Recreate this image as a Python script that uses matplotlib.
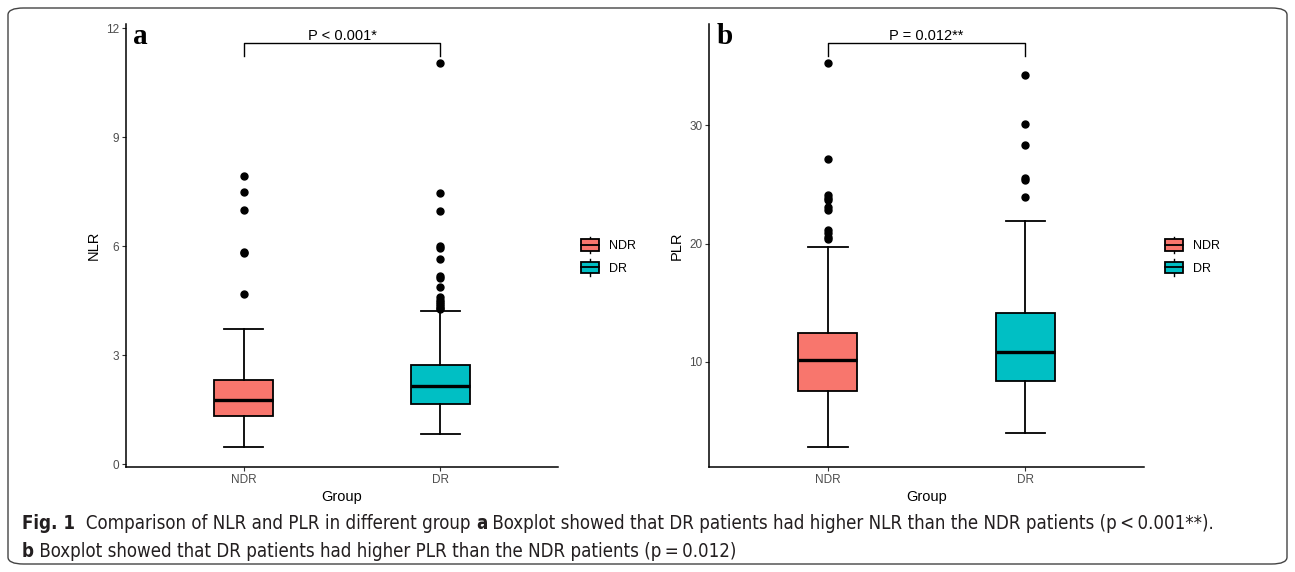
import matplotlib
matplotlib.use("Agg")
import matplotlib.pyplot as plt
from matplotlib import font_manager
from matplotlib.patches import Rectangle, FancyBboxPatch
from matplotlib.lines import Line2D
from matplotlib.legend_handler import HandlerBase

plt.rcParams['font.family'] = ['Liberation Sans', 'DejaVu Sans']

groups = ['NDR', 'DR']
colors = ['#F8766D', '#00BFC4']

# panel a, NLR box statistics
nlr_low = [0.48, 0.82]
nlr_q1 = [1.32, 1.66]
nlr_med = [1.76, 2.16]
nlr_q3 = [2.31, 2.72]
nlr_high = [3.73, 4.21]
nlr_out_ndr = [4.67, 5.80, 5.84, 6.99, 7.50, 7.92]
nlr_out_dr = [4.26, 4.31, 4.36, 4.41, 4.47, 4.52, 4.61, 4.88, 5.12, 5.18,
              5.66, 5.94, 6.00, 6.96, 7.47, 11.04]

# panel b, PLR box statistics
plr_low = [2.78, 3.94]
plr_q1 = [7.52, 8.39]
plr_med = [10.14, 10.80]
plr_q3 = [12.40, 14.15]
plr_high = [19.70, 21.93]
plr_out_ndr = [20.35, 20.52, 20.86, 21.14, 22.83, 23.11, 23.70, 23.87,
               24.10, 27.12, 35.25]
plr_out_dr = [23.93, 25.37, 25.57, 28.33, 30.12, 34.26]

nlr_ticks = [0, 3, 6, 9, 12]
plr_ticks = [10, 20, 30]
nlr_bracket = (11.25, 11.59)
plr_bracket = (35.89, 36.94)
nlr_p = "P < 0.001*"
plr_p = "P = 0.012**"


def make_stats(low, q1, med, q3, high, outs):
    stats = []
    for i in range(len(groups)):
        stats.append(dict(whislo=low[i], q1=q1[i], med=med[i], q3=q3[i],
                          whishi=high[i], fliers=outs[i], label=groups[i]))
    return stats


class BoxKeyHandler(HandlerBase):
    def create_artists(self, legend, orig_handle, xdescent, ydescent,
                       width, height, fontsize, trans):
        x0, y0 = -xdescent, -ydescent
        wh = Line2D([x0 + width / 2] * 2, [y0 - 0.25 * height, y0 + 1.25 * height],
                    color='black', lw=1.0, transform=trans)
        rect = Rectangle((x0, y0), width, height,
                         facecolor=orig_handle.get_facecolor(),
                         edgecolor='black', lw=1.3, transform=trans)
        med = Line2D([x0, x0 + width], [y0 + height / 2] * 2,
                     color='black', lw=1.3, transform=trans)
        return [wh, rect, med]


fig = plt.figure(figsize=(12.95, 5.72), dpi=100)

panels = [
    dict(rect=[126 / 1295, 1 - 467.3 / 572, 432 / 1295, 443.3 / 572],
         stats=make_stats(nlr_low, nlr_q1, nlr_med, nlr_q3, nlr_high,
                          [nlr_out_ndr, nlr_out_dr]),
         ylim=(-0.09, 12.12), ticks=nlr_ticks, ylabel='NLR',
         bracket=nlr_bracket, ptext=nlr_p, letter='a', leg=(581 / 1295, 1 - 257 / 572)),
    dict(rect=[709.3 / 1295, 1 - 467.3 / 572, 434.5 / 1295, 443.3 / 572],
         stats=make_stats(plr_low, plr_q1, plr_med, plr_q3, plr_high,
                          [plr_out_ndr, plr_out_dr]),
         ylim=(1.07, 38.57), ticks=plr_ticks, ylabel='PLR',
         bracket=plr_bracket, ptext=plr_p, letter='b', leg=(1165 / 1295, 1 - 257 / 572)),
]

for p in panels:
    ax = fig.add_axes(p['rect'])
    bp = ax.bxp(p['stats'], positions=[1, 2], widths=0.3, capwidths=0.2,
                patch_artist=True,
                boxprops=dict(edgecolor='black', linewidth=1.3),
                whiskerprops=dict(color='black', linewidth=1.3),
                capprops=dict(color='black', linewidth=1.3),
                medianprops=dict(color='black', linewidth=2.4),
                flierprops=dict(marker='o', markerfacecolor='black',
                                markeredgecolor='black', markersize=5))
    for patch, c in zip(bp['boxes'], colors):
        patch.set_facecolor(c)
    ax.set_xlim(0.4, 2.6)
    ax.set_ylim(*p['ylim'])
    ax.set_yticks(p['ticks'])
    ax.set_xticks([1, 2])
    ax.set_xticklabels(groups)
    for s in ['top', 'right']:
        ax.spines[s].set_visible(False)
    for s in ['left', 'bottom']:
        ax.spines[s].set_linewidth(1.1)
    ax.tick_params(axis='both', length=3, width=0.8, color='#333333',
                   labelsize=8.5, labelcolor='#4D4D4D', pad=2)
    ax.set_xlabel('Group', fontsize=10.5, labelpad=3)
    ax.set_ylabel(p['ylabel'], fontsize=10.5, labelpad=4)

    lo, hi = p['bracket']
    ax.plot([1, 1, 2, 2], [lo, hi, hi, lo], color='black', lw=1.0, clip_on=False)
    ax.text(1.5, hi, p['ptext'], ha='center', va='bottom', fontsize=10.5)
    ax.text(0.017, 0.955, p['letter'], transform=ax.transAxes, fontsize=21,
            fontweight='bold', family=['Liberation Serif', 'DejaVu Serif'],
            ha='left', va='baseline')

    handles = [Rectangle((0, 0), 1, 1, facecolor=c) for c in colors]
    fig.legend(handles, groups, loc='center left', bbox_to_anchor=p['leg'],
               bbox_transform=fig.transFigure, frameon=False, fontsize=9,
               handlelength=1.45, handleheight=1.0, labelspacing=0.75,
               handletextpad=0.8, borderpad=0, borderaxespad=0,
               handler_map={Rectangle: BoxKeyHandler()})

# rounded frame around the whole figure
frame = FancyBboxPatch((8 / 1295, 8 / 572), 1279 / 1295, 556 / 572,
                       boxstyle='round,pad=0,rounding_size=0.012',
                       transform=fig.transFigure, fill=False,
                       edgecolor='#444444', lw=1.0)
fig.patches.append(frame)

# caption, built run by run
avail = {f.name for f in font_manager.fontManager.ttflist}
cap_font = 'Liberation Sans Narrow' if 'Liberation Sans Narrow' in avail else 'DejaVu Sans'
line1 = [("Fig. 1", 'bold'), ("  Comparison of NLR and PLR in different group ", 'normal'),
         ("a", 'bold'),
         (" Boxplot showed that DR patients had higher NLR than the NDR patients (p\u2009<\u20090.001**).", 'normal')]
line2 = [("b", 'bold'),
         (" Boxplot showed that DR patients had higher PLR than the NDR patients (p\u2009=\u20090.012)", 'normal')]

renderer = fig.canvas.get_renderer()


def line_width(runs, fs):
    w = 0
    for txt, wt in runs:
        t = fig.text(0, 0, txt, fontsize=fs, fontweight=wt, fontstretch='condensed',
                     family=[cap_font, 'DejaVu Sans'])
        w += t.get_window_extent(renderer).width
        t.remove()
    return w


fs = 12 * 1198 / line_width(line1, 12)


def draw_line(runs, x_px, y_px):
    x = x_px
    for txt, wt in runs:
        t = fig.text(x / 1295, 1 - y_px / 572, txt, fontsize=fs, fontweight=wt,
                     fontstretch='condensed', family=[cap_font, 'DejaVu Sans'],
                     color='#231F20', ha='left', va='baseline')
        x += t.get_window_extent(renderer).width


draw_line(line1, 22, 529)
draw_line(line2, 22, 557)

fig.savefig('out.png', dpi=100)
